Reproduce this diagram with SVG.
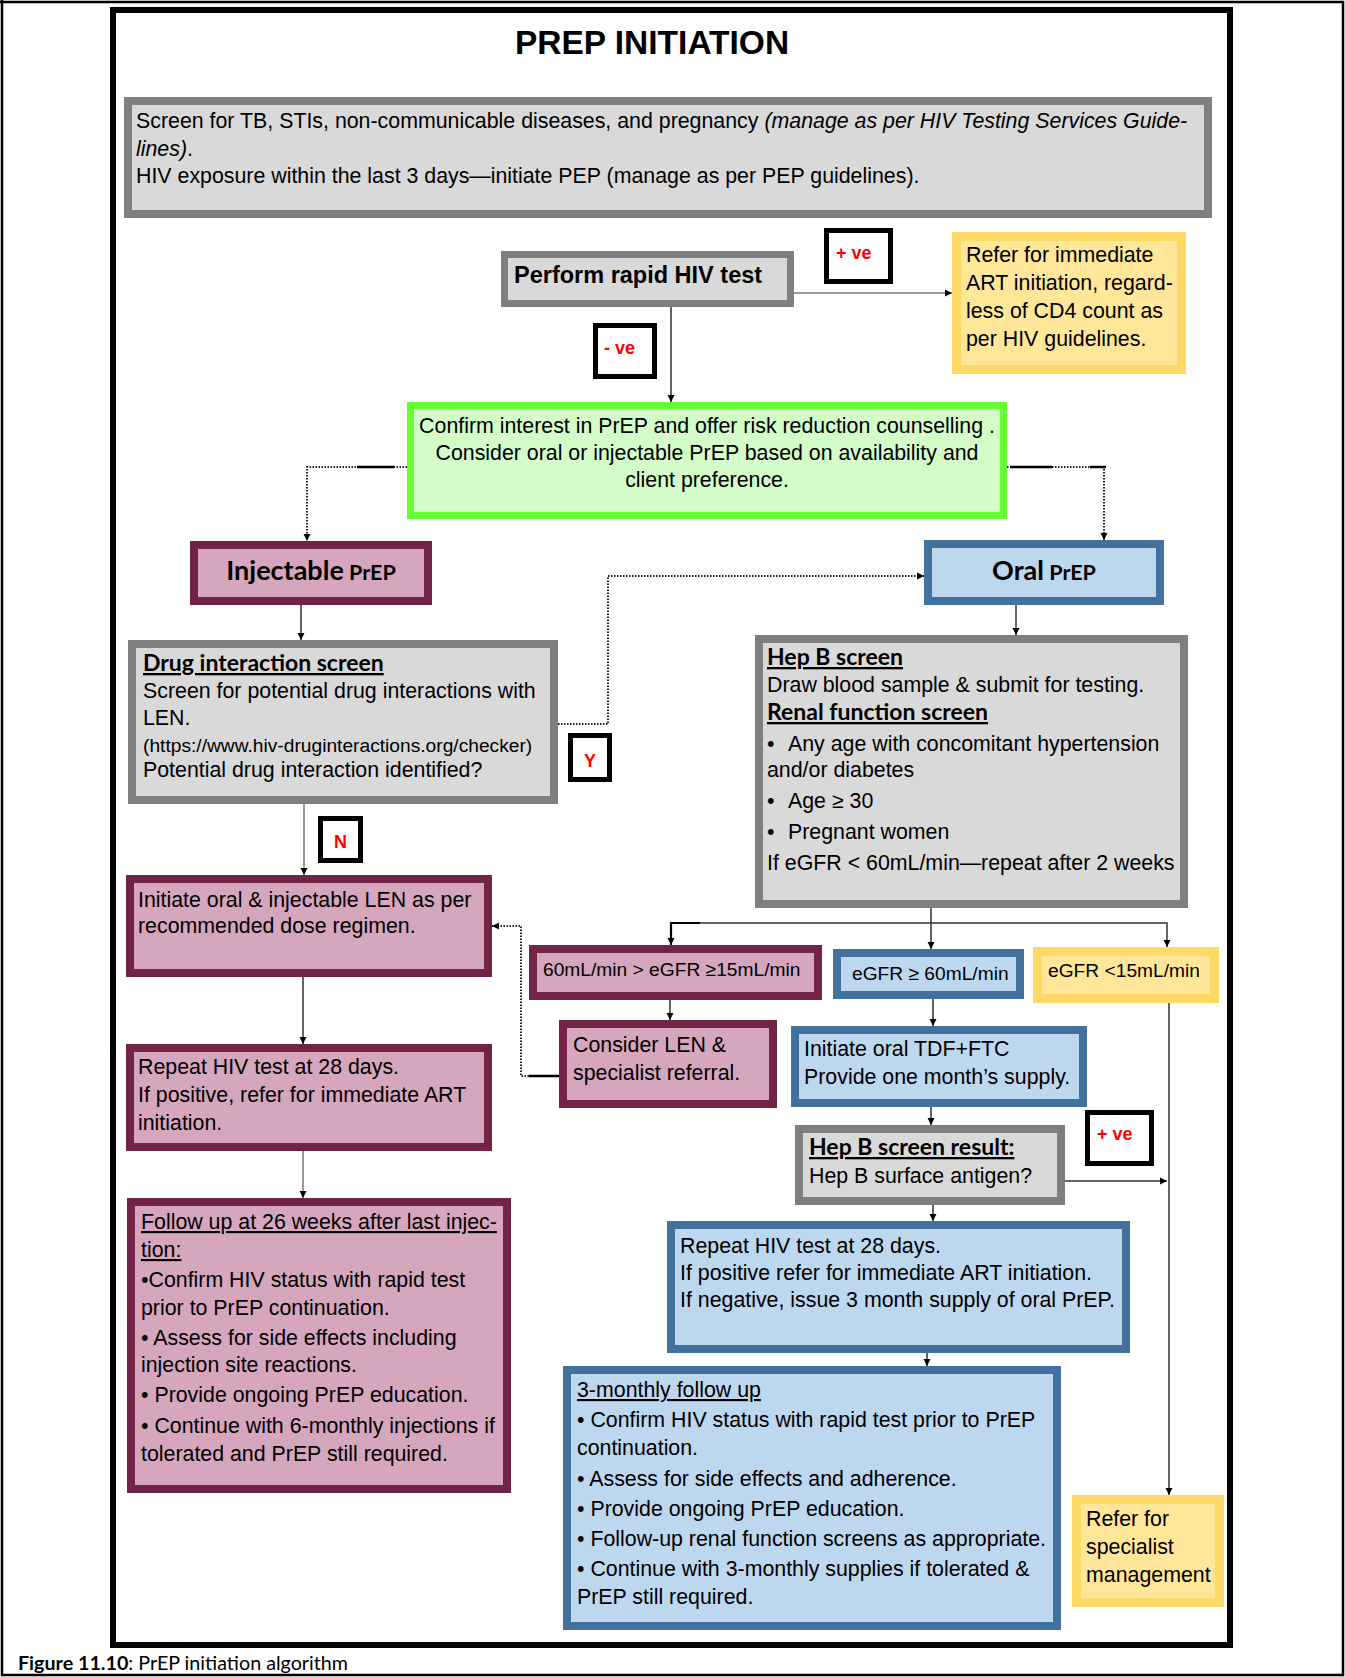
<svg xmlns="http://www.w3.org/2000/svg" width="1345" height="1677" viewBox="0 0 1345 1677">
<style>
.t{font-family:"Liberation Sans",Arial,sans-serif;font-size:21.35px;fill:#000}
.tb{font-family:"Liberation Sans",Arial,sans-serif;font-size:23.5px;font-weight:bold;fill:#000}
.h{font-family:Lato,"Liberation Sans",sans-serif;font-weight:bold;font-size:23px;text-decoration:underline;fill:#000}
.hd{font-family:Lato,"Liberation Sans",sans-serif;font-weight:bold;fill:#000}
.lbl{font-family:"Liberation Sans",Arial,sans-serif;font-weight:bold;font-size:18px;fill:#ff0000}
.gray{fill:#d9d9d9;stroke:#7f7f7f;stroke-width:8}
.mar{fill:#d5a6bd;stroke:#722448;stroke-width:8}
.blue{fill:#bdd7ee;stroke:#41719c;stroke-width:8}
.yel{fill:#ffe699;stroke:#ffd966;stroke-width:9}
.grn{fill:#d3fcc9;stroke:#66ff33;stroke-width:7}
.lab{fill:#fff;stroke:#000;stroke-width:5}
.ln{fill:none;stroke:#333;stroke-width:1.5}
.lg{fill:none;stroke:#999;stroke-width:2}
.dot{fill:none;stroke:#222;stroke-width:2;stroke-dasharray:1.5 1.5}
.sol{fill:none;stroke:#000;stroke-width:2.5}
</style>
<defs>
<marker id="ah" markerWidth="8" markerHeight="8" refX="7" refY="4" orient="auto" markerUnits="userSpaceOnUse"><path d="M0,0.5 L7,4 L0,7.5 z" fill="#000"/></marker>
</defs>
<rect x="0" y="0" width="1345" height="1677" fill="#fff"/>
<g id="page-frame">
<path d="M2,0 V1675 H1343 V2 H0" fill="none" stroke="#000" stroke-width="2.5"/>
<rect x="113" y="10" width="1117" height="1635" fill="none" stroke="#000" stroke-width="6"/>
</g>
<g id="title"><text x="652" y="54" text-anchor="middle" style="font-family:'Liberation Sans',Arial,sans-serif;font-weight:bold;font-size:33.5px">PREP INITIATION</text></g>

<g id="connectors">
<path class="ln" d="M671,307 V402" marker-end="url(#ah)"/>
<path class="lg" d="M794,293 H952" marker-end="url(#ah)"/>
<path class="dot" d="M407,467 H307 V541" marker-end="url(#ah)"/>
<path class="sol" d="M357,467 H394"/>
<path class="dot" d="M1007,467 H1104 V540" marker-end="url(#ah)"/>
<path class="sol" d="M1010,467 H1052 M1090,467 H1106"/>
<path class="ln" d="M301,605 V640" marker-end="url(#ah)"/>
<path class="dot" d="M558,724 H608 V576 H924" marker-end="url(#ah)"/>
<path class="lg" d="M304,804 V875" marker-end="url(#ah)"/>
<path class="ln" d="M303,977 V1044" marker-end="url(#ah)"/>
<path class="lg" d="M303,1151 V1198" marker-end="url(#ah)"/>
<path class="ln" d="M1016,605 V635" marker-end="url(#ah)"/>
<path class="ln" d="M931,908 V949" marker-end="url(#ah)"/>
<path class="ln" d="M700,923 H1167 V947" marker-end="url(#ah)"/>
<path class="ln" d="M700,923 H671 V945" marker-end="url(#ah)" style="stroke:#000;stroke-width:2.2"/>
<path class="ln" d="M670,1000 V1020" marker-end="url(#ah)"/>
<path class="sol" d="M559,1076 H529"/>
<path class="dot" d="M529,1076 H521 V926 H492" marker-end="url(#ah)"/>
<path class="ln" d="M933,999 V1026" marker-end="url(#ah)"/>
<path class="ln" d="M931,1107 V1125" marker-end="url(#ah)"/>
<path class="ln" d="M1065,1181 H1167" marker-end="url(#ah)"/>
<path class="ln" d="M1169,1003 V1495" marker-end="url(#ah)"/>
<path class="ln" d="M933,1205 V1221" marker-end="url(#ah)"/>
<path class="ln" d="M927,1353 V1366" marker-end="url(#ah)"/>
</g>

<g id="screen-box">
<rect class="gray" x="128" y="101" width="1080" height="113"/>
<text class="t" x="136" y="128">Screen for TB, STIs, non-communicable diseases, and pregnancy <tspan font-style="italic">(manage as per HIV Testing Services Guide-</tspan></text>
<text class="t" x="136" y="156"><tspan font-style="italic">lines)</tspan>.</text>
<text class="t" x="136" y="183">HIV exposure within the last 3 days—initiate PEP (manage as per PEP guidelines).</text>
</g>

<g id="perform-test">
<rect class="gray" x="504.5" y="254.5" width="286" height="49" style="stroke-width:7"/>
<text class="tb" x="514" y="283">Perform rapid HIV test</text>
</g>

<g id="label-pos1">
<rect class="lab" x="826.5" y="230.5" width="64" height="51"/>
<text class="lbl" x="836" y="259">+ ve</text>
</g>

<g id="refer-art">
<rect class="yel" x="956.5" y="236.5" width="225" height="133"/>
<text class="t" x="966" y="262">Refer for immediate</text>
<text class="t" x="966" y="290">ART initiation, regard-</text>
<text class="t" x="966" y="318">less of CD4 count as</text>
<text class="t" x="966" y="346">per HIV guidelines.</text>
</g>

<g id="label-neg">
<rect class="lab" x="595.5" y="325.5" width="59" height="51"/>
<text class="lbl" x="604" y="354">- ve</text>
</g>

<g id="confirm-interest">
<rect class="grn" x="410.5" y="405.5" width="593" height="110"/>
<text class="t" x="707" y="433" text-anchor="middle">Confirm interest in PrEP and offer risk reduction counselling .</text>
<text class="t" x="707" y="460" text-anchor="middle">Consider oral or injectable PrEP based on availability and</text>
<text class="t" x="707" y="487" text-anchor="middle">client preference.</text>
</g>

<g id="injectable-prep">
<rect class="mar" x="194" y="545" width="234" height="56"/>
<text class="hd" x="311" y="580" text-anchor="middle"><tspan font-size="27">Injectable</tspan><tspan font-size="21.5"> PrEP</tspan></text>
</g>

<g id="oral-prep">
<rect class="blue" x="928" y="544" width="232" height="57"/>
<text class="hd" x="1044" y="580" text-anchor="middle"><tspan font-size="27">Oral</tspan><tspan font-size="21.5"> PrEP</tspan></text>
</g>

<g id="drug-interaction">
<rect class="gray" x="132" y="644" width="422" height="156"/>
<text class="h" x="143" y="671">Drug interaction screen</text>
<text class="t" x="143" y="698">Screen for potential drug interactions with</text>
<text class="t" x="143" y="725">LEN.</text>
<text class="t" x="143" y="752" style="font-size:19.2px">(https://www.hiv-druginteractions.org/checker)</text>
<text class="t" x="143" y="777">Potential drug interaction identified?</text>
</g>

<g id="label-y">
<rect class="lab" x="570.5" y="735.5" width="39" height="44"/>
<text class="lbl" x="590" y="767" text-anchor="middle">Y</text>
</g>

<g id="label-n">
<rect class="lab" x="320.5" y="818.5" width="40" height="42"/>
<text class="lbl" x="340.5" y="848" text-anchor="middle">N</text>
</g>

<g id="initiate-len">
<rect class="mar" x="130" y="879" width="358" height="94"/>
<text class="t" x="138" y="907">Initiate oral &amp; injectable LEN as per</text>
<text class="t" x="138" y="933">recommended dose regimen.</text>
</g>

<g id="repeat-left">
<rect class="mar" x="130" y="1048" width="358" height="99"/>
<text class="t" x="138" y="1074">Repeat HIV test at 28 days.</text>
<text class="t" x="138" y="1102">If positive, refer for immediate ART</text>
<text class="t" x="138" y="1130">initiation.</text>
</g>

<g id="follow-up-26">
<rect class="mar" x="131" y="1202" width="376" height="287"/>
<text class="t" x="141" y="1229" text-decoration="underline">Follow up at 26 weeks after last injec-</text>
<text class="t" x="141" y="1257" text-decoration="underline">tion:</text>
<text class="t" x="141" y="1287">•Confirm HIV status with rapid test</text>
<text class="t" x="141" y="1315">prior to PrEP continuation.</text>
<text class="t" x="141" y="1345">• Assess for side effects including</text>
<text class="t" x="141" y="1372">injection site reactions.</text>
<text class="t" x="141" y="1402">• Provide ongoing PrEP education.</text>
<text class="t" x="141" y="1433">• Continue with 6-monthly injections if</text>
<text class="t" x="141" y="1461">tolerated and PrEP still required.</text>
</g>

<g id="hepb-screen">
<rect class="gray" x="759" y="639" width="425" height="265"/>
<text class="h" x="767" y="665">Hep B screen</text>
<text class="t" x="767" y="692">Draw blood sample &amp; submit for testing.</text>
<text class="h" x="767" y="720">Renal function screen</text>
<text class="t" x="767" y="751">•</text><text class="t" x="788" y="751">Any age with concomitant hypertension</text>
<text class="t" x="767" y="777">and/or diabetes</text>
<text class="t" x="767" y="808">•</text><text class="t" x="788" y="808">Age ≥ 30</text>
<text class="t" x="767" y="839">•</text><text class="t" x="788" y="839">Pregnant women</text>
<text class="t" x="767" y="870">If eGFR &lt; 60mL/min—repeat after 2 weeks</text>
</g>

<g id="egfr-mid">
<rect class="mar" x="533" y="949" width="285" height="47"/>
<text class="t" x="543" y="976" style="font-size:19.2px">60mL/min &gt; eGFR ≥15mL/min</text>
</g>

<g id="egfr-high">
<rect class="blue" x="837" y="953" width="183" height="42"/>
<text class="t" x="852" y="980" style="font-size:19.2px">eGFR ≥ 60mL/min</text>
</g>

<g id="egfr-low">
<rect class="yel" x="1037.5" y="951.5" width="177" height="47"/>
<text class="t" x="1048" y="977" style="font-size:19.2px">eGFR &lt;15mL/min</text>
</g>

<g id="consider-len">
<rect class="mar" x="563" y="1024" width="210" height="80"/>
<text class="t" x="573" y="1052">Consider LEN &amp;</text>
<text class="t" x="573" y="1080">specialist referral.</text>
</g>

<g id="initiate-oral">
<rect class="blue" x="795" y="1030" width="288" height="73"/>
<text class="t" x="804" y="1056">Initiate oral TDF+FTC</text>
<text class="t" x="804" y="1084">Provide one month’s supply.</text>
</g>

<g id="hepb-result">
<rect class="gray" x="799" y="1129" width="262" height="72"/>
<text class="h" x="809" y="1155">Hep B screen result:</text>
<text class="t" x="809" y="1183">Hep B surface antigen?</text>
</g>

<g id="label-pos2">
<rect class="lab" x="1087.5" y="1112.5" width="64" height="51"/>
<text class="lbl" x="1097" y="1140">+ ve</text>
</g>

<g id="repeat-right">
<rect class="blue" x="671" y="1225" width="455" height="124"/>
<text class="t" x="680" y="1253">Repeat HIV test at 28 days.</text>
<text class="t" x="680" y="1280">If positive refer for immediate ART initiation.</text>
<text class="t" x="680" y="1307">If negative, issue 3 month supply of oral PrEP.</text>
</g>

<g id="three-monthly">
<rect class="blue" x="567" y="1370" width="490" height="256"/>
<text class="t" x="577" y="1397" text-decoration="underline">3-monthly follow up</text>
<text class="t" x="577" y="1427">• Confirm HIV status with rapid test prior to PrEP</text>
<text class="t" x="577" y="1455">continuation.</text>
<text class="t" x="577" y="1486">• Assess for side effects and adherence.</text>
<text class="t" x="577" y="1516">• Provide ongoing PrEP education.</text>
<text class="t" x="577" y="1546">• Follow-up renal function screens as appropriate.</text>
<text class="t" x="577" y="1576">• Continue with 3-monthly supplies if tolerated &amp;</text>
<text class="t" x="577" y="1604">PrEP still required.</text>
</g>

<g id="refer-specialist">
<rect class="yel" x="1076.5" y="1499.5" width="143" height="103"/>
<text class="t" x="1086" y="1526">Refer for</text>
<text class="t" x="1086" y="1554">specialist</text>
<text class="t" x="1086" y="1582">management</text>
</g>

<g id="caption">
<text x="18" y="1670" style="font-family:Lato,'Liberation Sans',sans-serif;font-size:19.7px"><tspan font-weight="bold">Figure 11.10</tspan>: PrEP initiation algorithm</text>
</g>
</svg>
